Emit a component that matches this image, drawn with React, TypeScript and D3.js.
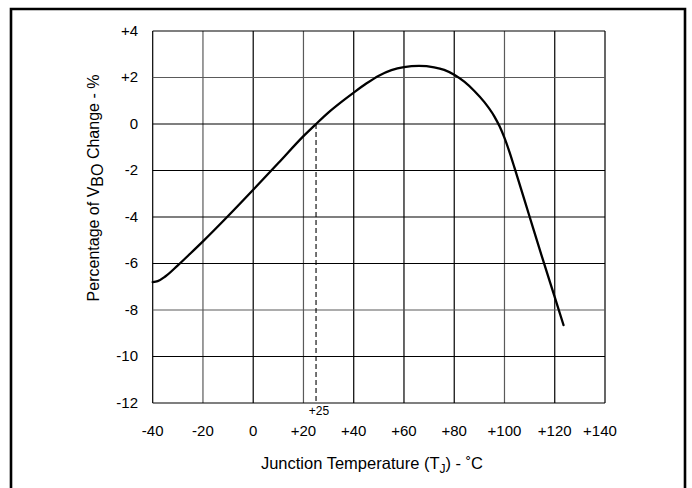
import * as d3 from "d3";

// Junction temperature (°C) vs percentage of VBO change (%)
const tempC = [
  -40, -38, -35, -30, -25, -20, -10, 0, 10, 20, 25, 30, 35, 40, 45, 50, 55, 60,
  66, 72, 76, 80, 84, 88, 92, 96, 98, 100, 102, 104, 110, 115, 120, 123.5,
];
const vboChange = [
  -6.8, -6.76, -6.56, -6.08, -5.57, -5.05, -3.96, -2.83, -1.68, -0.52, 0, 0.5,
  0.94, 1.35, 1.74, 2.08, 2.32, 2.45, 2.5, 2.44, 2.33, 2.12, 1.82, 1.42, 0.94,
  0.32, -0.09, -0.6, -1.21, -1.89, -3.99, -5.74, -7.45, -8.65,
];

const xTicks = [-40, -20, 0, 20, 40, 60, 80, 100, 120, 140];
const yTicks = [4, 2, 0, -2, -4, -6, -8, -10, -12];
// grid lines that came out lighter in the scan
const xLight = [-20, 20, 100];
const yLight = [2, -8];
const refTemp = 25;

const W = 692;
const H = 488;
const PLOT = { left: 152.7, right: 605, top: 31, bottom: 403 };
const FONT = "Liberation Sans, Arial, sans-serif";

const signed = (v: number) => (v > 0 ? `+${v}` : `${v}`);

export default function App() {
  const x = d3.scaleLinear().domain([-40, 140]).range([PLOT.left, PLOT.right]);
  const y = d3.scaleLinear().domain([-12, 4]).range([PLOT.bottom, PLOT.top]);

  const pts: [number, number][] = tempC.map((t, i) => [t, vboChange[i]]);
  const line = d3
    .line<[number, number]>()
    .x((d) => x(d[0]))
    .y((d) => y(d[1]))
    .curve(d3.curveMonotoneX);

  return (
    <svg
      width={W}
      height={H}
      style={{ position: "absolute", left: 0, top: 0, background: "#fff" }}
      fontFamily={FONT}
    >
      {/* outer frame (open at the bottom) */}
      <path
        d={`M11,${H + 5}V9H685V${H + 5}`}
        fill="none"
        stroke="#000"
        strokeWidth={2.6}
      />

      {/* vertical grid */}
      {xTicks.map((t) => (
        <line
          key={`vx${t}`}
          x1={x(t)}
          x2={x(t)}
          y1={PLOT.top}
          y2={PLOT.bottom}
          stroke={xLight.includes(t) ? "#5a5a5a" : "#000"}
          strokeWidth={1.2}
        />
      ))}
      {/* horizontal grid */}
      {yTicks.map((t) => (
        <line
          key={`hy${t}`}
          x1={PLOT.left}
          x2={PLOT.right}
          y1={y(t)}
          y2={y(t)}
          stroke={yLight.includes(t) ? "#5a5a5a" : "#000"}
          strokeWidth={1.2}
        />
      ))}

      {/* +25 reference */}
      <line
        x1={x(refTemp)}
        x2={x(refTemp)}
        y1={y(0)}
        y2={PLOT.bottom}
        stroke="#000"
        strokeWidth={1.1}
        strokeDasharray="5,3"
      />
      <text x={x(refTemp) + 3} y={415} fontSize={12} textAnchor="middle">
        +25
      </text>

      {/* curve */}
      <path
        d={line(pts) ?? ""}
        fill="none"
        stroke="#000"
        strokeWidth={2.3}
        strokeLinecap="round"
      />

      {/* y tick labels */}
      {yTicks.map((t) => (
        <text
          key={`yl${t}`}
          x={138}
          y={y(t)}
          dy="0.3em"
          fontSize={15}
          textAnchor="end"
        >
          {signed(t)}
        </text>
      ))}
      {/* x tick labels */}
      {xTicks.map((t) => (
        <text
          key={`xl${t}`}
          x={t === 140 ? x(t) - 5 : x(t)}
          y={436}
          fontSize={15}
          textAnchor="middle"
        >
          {signed(t)}
        </text>
      ))}

      {/* axis titles */}
      <text x={372} y={469} fontSize={16.5} textAnchor="middle">
        Junction Temperature (T
        <tspan fontSize={12} dy={4}>
          J
        </tspan>
        <tspan dy={-4}>) - ˚C</tspan>
      </text>
      <text
        transform={`translate(99,188) rotate(-90)`}
        fontSize={16}
        textAnchor="middle"
      >
        Percentage of V
        <tspan dy={4}>BO</tspan>
        <tspan dy={-4}> Change - %</tspan>
      </text>
    </svg>
  );
}
